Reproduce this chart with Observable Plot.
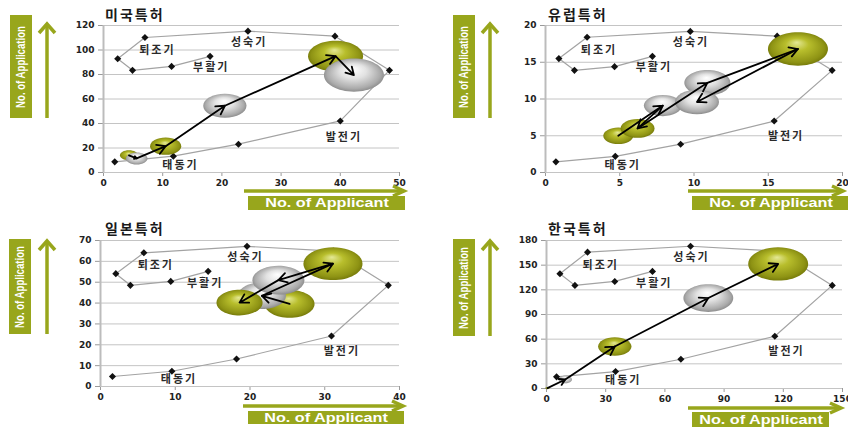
<!DOCTYPE html>
<html><head><meta charset="utf-8">
<script src="https://cdn.jsdelivr.net/npm/d3@7"></script>
<script src="https://cdn.jsdelivr.net/npm/@observablehq/plot@0.6"></script>
<style>
body{margin:0;background:#fff;}
#root{position:relative;width:848px;height:427px;overflow:hidden;background:#fff;}
.panel{position:absolute;overflow:visible;}
.panel > svg{position:absolute;left:0;top:0;}
.title{position:absolute;font:bold 14px "Noto Sans CJK KR";letter-spacing:2px;color:#1a1a1a;line-height:20px;white-space:nowrap;}
.ybanner,.xbanner{position:absolute;background:#98a61c;overflow:visible;}
.ybanner span{position:absolute;left:50%;top:50%;transform:translate(-50%,-50%) rotate(-90deg) scaleX(0.8);color:#fff;font:bold 12px "Liberation Sans",Arial,sans-serif;white-space:nowrap;}
.xbanner span{position:absolute;left:50%;top:50%;transform:translate(-50%,-50%) scaleX(1.35);color:#fff;font:bold 12px "Liberation Sans",Arial,sans-serif;white-space:nowrap;}
svg.decor{position:absolute;left:0;top:0;overflow:visible;}
g[aria-label="text"] text{letter-spacing:2px;}
g[aria-label="y-axis tick"],g[aria-label="x-axis tick"]{stroke:#9a9a9a;}
g[aria-label="y-axis"] line,g[aria-label="x-axis"] line{stroke:#9a9a9a;}
</style>
</head><body>
<div id="root">
<svg width="0" height="0" style="position:absolute"><defs>
<radialGradient id="gY" cx="0.5" cy="0.5" r="0.55" fx="0.48" fy="0.3">
<stop offset="0" stop-color="#e4e895"/><stop offset="0.35" stop-color="#b8be2c"/><stop offset="0.8" stop-color="#8e9314"/><stop offset="1" stop-color="#6c7006"/>
</radialGradient>
<radialGradient id="gG" cx="0.5" cy="0.5" r="0.55" fx="0.48" fy="0.3">
<stop offset="0" stop-color="#ffffff"/><stop offset="0.4" stop-color="#e2e2e2"/><stop offset="0.8" stop-color="#ababab"/><stop offset="1" stop-color="#7e7e7e"/>
</radialGradient>
</defs></svg>
</div>
<script>
// ---------- data ----------
const phaseNames = ["태동기", "발전기", "성숙기", "퇴조기", "부활기"];

// 미국특허
const usXTicks = [0, 10, 20, 30, 40, 50];
const usYTicks = [0, 20, 40, 60, 80, 100, 120];
const usLifeX = [1.9, 11.8, 22.8, 40.0, 48.3, 39.1, 24.4, 7.0, 2.4, 4.9, 11.5, 18.0];
const usLifeY = [8.7, 13.3, 23.1, 42.1, 83.4, 111.3, 115.4, 110.2, 92.9, 83.4, 86.6, 94.8];
const usLabelX = [13.0, 40.6, 24.6, 9.1, 18.2];
const usLabelY = [5.4, 29.0, 106.4, 99.6, 86.1];
const usBubX = [4.3, 5.6, 10.5, 20.5, 39.2, 42.3];
const usBubY = [14.0, 11.5, 21.5, 54.5, 95.0, 79.5];
const usBubSize = [9, 13, 27, 52, 84, 100];

// 유럽특허
const euXTicks = [0, 5, 10, 15, 20];
const euYTicks = [0, 5, 10, 15, 20];
const euLifeX = [0.7, 4.7, 9.1, 15.4, 19.3, 15.6, 9.75, 2.8, 0.9, 1.95, 4.65, 7.2];
const euLifeY = [1.45, 2.2, 3.85, 7.0, 13.9, 18.55, 19.2, 18.4, 15.5, 13.9, 14.4, 15.8];
const euLabelX = [5.2, 16.2, 9.8, 3.6, 7.3];
const euLabelY = [0.9, 4.85, 17.7, 16.6, 14.3];
const euBubX = [4.9, 7.9, 6.2, 10.9, 17.0, 10.2];
const euBubY = [5.0, 9.1, 6.0, 12.2, 16.8, 9.6];
const euBubSize = [25, 40, 32, 59, 100, 54];

// 일본특허
const jpXTicks = [0, 10, 20, 30, 40];
const jpYTicks = [0, 10, 20, 30, 40, 50, 60, 70];
const jpLifeX = [1.6, 9.55, 18.2, 30.9, 38.5, 31.2, 19.6, 5.8, 2.05, 4.0, 9.4, 14.4];
const jpLifeY = [4.8, 7.3, 13.2, 24.2, 48.5, 64.9, 67.2, 64.1, 54.1, 48.5, 50.4, 55.2];
const jpLabelX = [10.5, 32.3, 19.4, 7.4, 14.0];
const jpLabelY = [3.2, 17.0, 62.0, 58.1, 49.6];
const jpBubX = [25.3, 21.6, 31.1, 23.8, 18.6];
const jpBubY = [39.6, 43.5, 58.9, 51.0, 40.2];
const jpBubSize = [69, 64, 97, 75, 59];

// 한국특허
const krXTicks = [0, 30, 60, 90, 120, 150];
const krYTicks = [0, 30, 60, 90, 120, 150, 180];
const krLifeX = [5.1, 35, 68.1, 115.7, 144.8, 117.1, 73, 20.8, 6.8, 14.4, 34.6, 53.7];
const krLifeY = [14.2, 20.6, 35.6, 63.5, 125.4, 167, 173, 165.8, 139.5, 125.4, 130.2, 142.4];
const krLabelX = [38.9, 121.6, 73.5, 27.5, 54.6];
const krLabelY = [9.3, 44.5, 159.8, 149.7, 128.2];
const krBubX = [0.5, 9.5, 34.6, 82.0, 117.4];
const krBubY = [0.5, 11.0, 51.0, 110.0, 151.5];
const krBubSize = [0.5, 5, 31, 69, 100];

// ---------- drawing ----------
const ASPECT = 1.8, K = 0.5522847498;
const ellipse = {draw(ctx, size) {
  const rx = Math.sqrt(size / Math.PI), ry = rx / ASPECT, ox = rx * K, oy = ry * K;
  ctx.moveTo(-rx, 0);
  ctx.bezierCurveTo(-rx, -oy, -ox, -ry, 0, -ry);
  ctx.bezierCurveTo(ox, -ry, rx, -oy, rx, 0);
  ctx.bezierCurveTo(rx, oy, ox, ry, 0, ry);
  ctx.bezierCurveTo(-ox, ry, -rx, oy, -rx, 0);
  ctx.closePath();
}};

const GREEN = "#98a61c";
const root = document.getElementById("root");

function panel(c) {
  const life = c.lifeX.map((x, i) => ({x, y: c.lifeY[i]}));
  const labels = phaseNames.map((t, i) => ({t, x: c.labelX[i], y: c.labelY[i]}));
  const bub = c.bubX.map((x, i) => ({x, y: c.bubY[i], size: c.bubSize[i], fill: i % 2 === 0 ? "url(#gY)" : "url(#gG)"}));
  const segs = bub.slice(1).map((b, i) => ({x1: bub[i].x, y1: bub[i].y, x2: b.x, y2: b.y}));

  const div = document.createElement("div");
  div.className = "panel";
  Object.assign(div.style, {left: c.left + "px", top: c.top + "px", width: c.width + "px", height: c.height + "px"});

  const chart = Plot.plot({
    width: c.width, height: c.height,
    marginLeft: c.mL, marginRight: c.mR, marginTop: c.mT, marginBottom: c.mB,
    style: {fontFamily: "DejaVu Sans", fontSize: "9px", fontWeight: "bold", color: "#222", background: "transparent"},
    x: {domain: [c.xTicks[0], c.xTicks[c.xTicks.length - 1]], ticks: c.xTicks, tickSize: 4, tickPadding: 3, label: null},
    y: {domain: [c.yTicks[0], c.yTicks[c.yTicks.length - 1]], ticks: c.yTicks, tickSize: 5, tickPadding: 4, label: null},
    r: {type: "sqrt", domain: [0, 100], range: [0, 30]},
    color: {type: "identity"},
    marks: [
      Plot.ruleY(c.yTicks, {stroke: "#c4c4c4", strokeWidth: 1}),
      Plot.ruleX([0], {stroke: "#bcbcbc", strokeWidth: 2}),
      Plot.line(life, {x: "x", y: "y", stroke: "#a3a3a3", strokeWidth: 1.2}),
      Plot.dot(life, {x: "x", y: "y", symbol: "diamond2", r: 3.2, fill: "#111", stroke: "none"}),
      Plot.text(labels, {x: "x", y: "y", text: "t", fontSize: 11, fontWeight: "bold", fontFamily: "Noto Sans CJK KR", fill: "#2a2a2a"}),
      Plot.dot(bub, {x: "x", y: "y", r: "size", symbol: ellipse, fill: d => d.fill, stroke: "none", sort: null}),
      Plot.arrow(segs, {x1: "x1", y1: "y1", x2: "x2", y2: "y2", stroke: "#000", strokeWidth: 1.8, headLength: 8})
    ]
  });
  div.appendChild(chart);

  const t = document.createElement("div");
  t.className = "title"; t.textContent = c.title;
  Object.assign(t.style, {left: c.titleLeft + "px", top: c.titleTop + "px"});
  div.appendChild(t);

  const yb = document.createElement("div");
  yb.className = "ybanner";
  Object.assign(yb.style, {left: c.yb[0] + "px", top: c.yb[1] + "px", width: c.yb[2] + "px", height: c.yb[3] + "px"});
  yb.innerHTML = "<span>No. of Application</span>";
  div.appendChild(yb);

  const xb = document.createElement("div");
  xb.className = "xbanner";
  Object.assign(xb.style, {left: c.xb[0] + "px", top: c.xb[1] + "px", width: c.xb[2] + "px", height: c.xb[3] + "px"});
  xb.innerHTML = "<span>No. of Applicant</span>";
  div.appendChild(xb);

  const ns = "http://www.w3.org/2000/svg";
  const dec = document.createElementNS(ns, "svg");
  dec.setAttribute("class", "decor");
  dec.setAttribute("width", c.width); dec.setAttribute("height", c.height);
  const [ax, ay1, ay2] = c.ya, [hy, hx1, hx2] = c.xa;
  dec.innerHTML =
    `<g fill="none" stroke="${GREEN}" stroke-width="3.5" stroke-linecap="butt">` +
    `<line x1="${ax}" y1="${ay2}" x2="${ax}" y2="${ay1 + 2}"/>` +
    `<polyline points="${ax - 8},${ay1 + 10} ${ax},${ay1 + 1} ${ax + 8},${ay1 + 10}"/>` +
    `<line x1="${hx1}" y1="${hy}" x2="${hx2 - 2}" y2="${hy}"/>` +
    `<polyline points="${hx2 - 12},${hy - 5} ${hx2 - 1},${hy} ${hx2 - 12},${hy + 5}"/></g>`;
  div.appendChild(dec);
  root.appendChild(div);
}

panel({title: "미국특허", left: 0, top: 0, width: 424, height: 213, mL: 103, mR: 25, mT: 25, mB: 41,
  xTicks: usXTicks, yTicks: usYTicks, lifeX: usLifeX, lifeY: usLifeY, labelX: usLabelX, labelY: usLabelY,
  bubX: usBubX, bubY: usBubY, bubSize: usBubSize,
  titleLeft: 105, titleTop: 4, yb: [10, 15, 22, 103], ya: [47, 23, 118], xb: [248, 196, 157, 14], xa: [191, 244, 405]});

panel({title: "유럽특허", left: 424, top: 0, width: 424, height: 213, mL: 121, mR: 6, mT: 25, mB: 41,
  xTicks: euXTicks, yTicks: euYTicks, lifeX: euLifeX, lifeY: euLifeY, labelX: euLabelX, labelY: euLabelY,
  bubX: euBubX, bubY: euBubY, bubSize: euBubSize,
  titleLeft: 124, titleTop: 4, yb: [29, 15, 22, 103], ya: [66, 23, 118], xb: [268, 196, 158, 14], xa: [191, 264, 420]});

panel({title: "일본특허", left: 0, top: 213, width: 424, height: 214, mL: 100, mR: 25, mT: 27, mB: 41,
  xTicks: jpXTicks, yTicks: jpYTicks, lifeX: jpLifeX, lifeY: jpLifeY, labelX: jpLabelX, labelY: jpLabelY,
  bubX: jpBubX, bubY: jpBubY, bubSize: jpBubSize,
  titleLeft: 105, titleTop: 5, yb: [9, 26, 22, 95], ya: [47, 27, 121], xb: [248, 198, 156, 13], xa: [193, 243, 404]});

panel({title: "한국특허", left: 424, top: 213, width: 424, height: 214, mL: 122, mR: 6, mT: 27, mB: 39,
  xTicks: krXTicks, yTicks: krYTicks, lifeX: krLifeX, lifeY: krLifeY, labelX: krLabelX, labelY: krLabelY,
  bubX: krBubX, bubY: krBubY, bubSize: krBubSize,
  titleLeft: 124, titleTop: 5, yb: [29, 26, 22, 97], ya: [66, 27, 123], xb: [268, 199, 137, 15], xa: [195, 264, 418]});
</script>
</body></html>
